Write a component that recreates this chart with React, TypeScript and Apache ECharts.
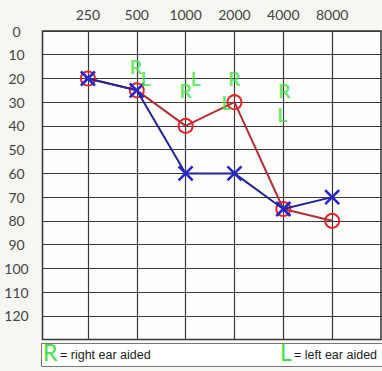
import React, { useEffect, useRef } from 'react';
import * as echarts from 'echarts';

// ---- data ----
const FREQUENCIES = ['250', '500', '1000', '2000', '4000', '8000'];
const DB_MIN = 0;
const DB_MAX = 130;
const RIGHT_EAR = [20, 25, 40, 30, 75, 80]; // red O
const LEFT_EAR = [20, 25, 60, 60, 75, 70]; // blue X
const AIDED_FREQS = ['500', '1000', '2000', '4000'];
const AIDED_RIGHT = [15, 25, 20, 25]; // green R
const AIDED_LEFT = [20, 20, 30, 35]; // green L
// small label nudges (style only, in px) so letters don't overlap
const AIDED_RIGHT_NUDGE = [-1, 0, 0, 1];
const AIDED_LEFT_NUDGE = [9, 10, -8, -1];

const GREEN = '#44e044';
const AXIS_FONT = 'Lato, "Open Sans", sans-serif';

const xPos = (f: string) => FREQUENCIES.indexOf(f) + 1;

export default function App() {
  const ref = useRef<HTMLDivElement>(null);
  useEffect(() => {
    if (!ref.current) return;
    const chart = echarts.init(ref.current, null, { renderer: 'svg' });
    const tickVals = FREQUENCIES.map((f) => xPos(f));
    const letterLabel = (txt: string) => ({
      show: true,
      position: 'inside',
      formatter: txt,
      color: GREEN,
      fontSize: 19,
      fontWeight: 'bold',
      fontFamily: AXIS_FONT,
    });
    const option: any = {
      animation: false,
      backgroundColor: '#f6f6f3',
      grid: {
        left: 42.5,
        top: 31,
        right: 1,
        bottom: 31.5,
        show: true,
        borderColor: '#333',
        borderWidth: 1.5,
        backgroundColor: '#fdfdfb',
      },
      xAxis: {
        type: 'value',
        position: 'top',
        min: 0.07,
        max: 7,
        axisLine: { show: false },
        axisTick: { show: false, customValues: tickVals },
        axisLabel: {
          customValues: tickVals,
          formatter: (v: number) => FREQUENCIES[Math.round(v) - 1] ?? '',
          color: '#444',
          fontSize: 14,
          fontFamily: AXIS_FONT,
          margin: 10,
        },
        splitLine: { show: true, lineStyle: { color: '#3a3a3a', width: 1.2 } },
      },
      yAxis: {
        type: 'value',
        inverse: true,
        min: DB_MIN,
        max: DB_MAX,
        interval: 10,
        axisLine: { show: false },
        axisTick: { show: false },
        axisLabel: {
          formatter: (v: number) => (v >= DB_MAX ? '' : String(v)),
          color: '#444',
          fontSize: 14,
          fontFamily: AXIS_FONT,
          align: 'center',
          margin: 26,
        },
        splitLine: { show: true, lineStyle: { color: '#3a3a3a', width: 1.2 } },
      },
      series: [
        {
          name: 'Right ear',
          type: 'line',
          data: FREQUENCIES.map((f, i) => [xPos(f), RIGHT_EAR[i]]),
          lineStyle: { color: '#b02f38', width: 2 },
          symbol: 'circle',
          symbolSize: 14,
          itemStyle: { color: 'rgba(255,255,255,0)', borderColor: '#e0262c', borderWidth: 2 },
          z: 3,
        },
        {
          name: 'Left ear',
          type: 'line',
          data: FREQUENCIES.map((f, i) => [xPos(f), LEFT_EAR[i]]),
          lineStyle: { color: '#23239a', width: 2 },
          symbol: 'path://M0,0L10,10M10,0L0,10',
          symbolSize: 14,
          itemStyle: { color: 'none', borderColor: '#2626c8', borderWidth: 2.6 },
          z: 4,
        },
        {
          name: 'Right aided',
          type: 'scatter',
          symbolSize: 1,
          itemStyle: { color: 'rgba(0,0,0,0)' },
          data: AIDED_FREQS.map((f, i) => ({
            value: [xPos(f), AIDED_RIGHT[i]],
            label: { offset: [AIDED_RIGHT_NUDGE[i], 0] },
          })),
          label: letterLabel('R'),
          z: 5,
        },
        {
          name: 'Left aided',
          type: 'scatter',
          symbolSize: 1,
          itemStyle: { color: 'rgba(0,0,0,0)' },
          data: AIDED_FREQS.map((f, i) => ({
            value: [xPos(f), AIDED_LEFT[i]],
            label: { offset: [AIDED_LEFT_NUDGE[i], 0] },
          })),
          label: letterLabel('L'),
          z: 5,
        },
      ],
      graphic: [
        {
          type: 'rect',
          left: 41,
          top: 343,
          shape: { width: 360, height: 23 },
          style: { fill: '#ffffff', stroke: '#777', lineWidth: 1 },
        },
        {
          type: 'text',
          left: 43,
          top: 340,
          style: { text: 'R', fill: GREEN, fontSize: 23, fontFamily: AXIS_FONT },
        },
        {
          type: 'text',
          left: 60,
          top: 348,
          style: { text: '= right ear aided', fill: '#222', fontSize: 12.5, fontFamily: '"Liberation Sans", Arial, sans-serif' },
        },
        {
          type: 'text',
          left: 280,
          top: 340,
          style: { text: 'L', fill: GREEN, fontSize: 23, fontFamily: AXIS_FONT },
        },
        {
          type: 'text',
          left: 294,
          top: 348,
          style: { text: '= left ear aided', fill: '#222', fontSize: 12.5, fontFamily: '"Liberation Sans", Arial, sans-serif' },
        },
      ],
    };
    chart.setOption(option);
    return () => chart.dispose();
  }, []);
  return (
    <div
      ref={ref}
      style={{ position: 'fixed', left: 0, top: 0, width: 382, height: 371 }}
    />
  );
}
